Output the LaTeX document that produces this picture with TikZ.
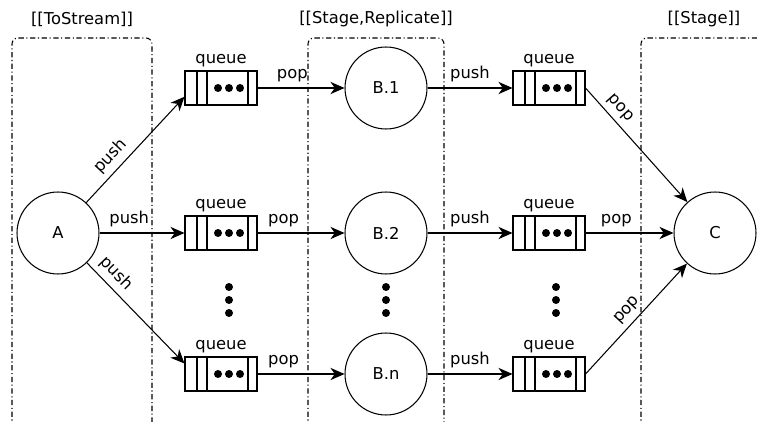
\documentclass[tikz,border=0pt]{standalone}
\usepackage{fontspec}
\setmainfont{DejaVu Sans}
\usetikzlibrary{arrows.meta,calc}

\tikzset{
  stage/.style={draw, circle, minimum size=1.64cm, inner sep=0pt},
  queue/.style={draw, rectangle, minimum width=1.44cm, minimum height=0.68cm, inner sep=0pt,
    label={[inner sep=2pt]above:queue},
    path picture={
      \draw[line width=0.6pt] ([xshift=0.24cm]path picture bounding box.north west) -- ([xshift=0.24cm]path picture bounding box.south west);
      \draw[line width=0.6pt] ([xshift=0.44cm]path picture bounding box.north west) -- ([xshift=0.44cm]path picture bounding box.south west);
      \draw[line width=0.6pt] ([xshift=-0.18cm]path picture bounding box.north east) -- ([xshift=-0.18cm]path picture bounding box.south east);
      \foreach \dx in {0.66,0.88,1.10}
        \fill ([xshift=\dx cm]path picture bounding box.west) circle (0.08cm);
    }},
  flow/.style={-{Stealth[length=8pt,width=7pt,inset=2.5pt]}},
  lbl/.style={above, inner sep=3pt},
  group/.style={rounded corners=0.12cm, dash pattern=on 3pt off 1.5pt on 0.6pt off 1.5pt},
}

\begin{document}
\begin{tikzpicture}[x=0.02cm, y=-0.02cm, line width=0.6pt, font=\fontsize{9.3}{11}\selectfont]
  \path[use as bounding box] (0,0) rectangle (757,422);
  \clip (0,0) rectangle (757,422);

  % stage frames
  \draw[group] (12,440) -- (12,38) -- (152,38) -- (152,440);
  \draw[group] (308,440) -- (308,38) -- (444,38) -- (444,440);
  \draw[group] (641,440) -- (641,38) -- (767,38) -- (767,440);

  \node (tostream) at (82,19) {[[ToStream]]};
  \node (replicate) at (376,19) {[[Stage,Replicate]]};
  \node (stage) at (704,19) {[[Stage]]};

  % stages
  \node[stage] (A) at (58,233) {A};
  \node[stage] (B1) at (386,88) {B.1};
  \node[stage] (B2) at (386,233) {B.2};
  \node[stage] (Bn) at (386,374) {B.n};
  \node[stage] (C) at (715,233) {C};

  % queues
  \node[queue] (q1) at (221,88) {};
  \node[queue] (q2) at (221,233) {};
  \node[queue] (q3) at (221,374) {};
  \node[queue] (q4) at (549,88) {};
  \node[queue] (q5) at (549,233) {};
  \node[queue] (q6) at (549,374) {};

  % vertical ellipses
  \foreach \x in {229,386,556}
    \foreach \y in {287,300,313}
      \fill (\x,\y) circle (0.08cm);

  % A pushes into the queues
  \draw[flow] (A) -- node[lbl, sloped, pos=.35] {push} ($(q1.west)!.5!(q1.south west)$);
  \draw[flow] (A) -- node[lbl, pos=.35] {push} (q2);
  \draw[flow] (A) -- node[lbl, sloped, pos=.2] {push} ($(q3.west)!.6!(q3.north west)$);

  % replicated stages
  \draw[flow] (q1) -- node[lbl, pos=.4] {pop} (B1);
  \draw[flow] (q2) -- node[lbl, pos=.3] {pop} (B2);
  \draw[flow] (q3) -- node[lbl, pos=.3] {pop} (Bn);
  \draw[flow] (B1) -- node[lbl] {push} (q4);
  \draw[flow] (B2) -- node[lbl] {push} (q5);
  \draw[flow] (Bn) -- node[lbl] {push} (q6);

  % C pops from all queues
  \draw[flow] (q4.east) -- node[lbl, sloped, pos=.25] {pop} (C);
  \draw[flow] (q5) -- node[lbl, pos=.35] {pop} (C);
  \draw[flow] (q6.east) -- node[lbl, sloped, pos=.5] {pop} (C);
\end{tikzpicture}
\end{document}
